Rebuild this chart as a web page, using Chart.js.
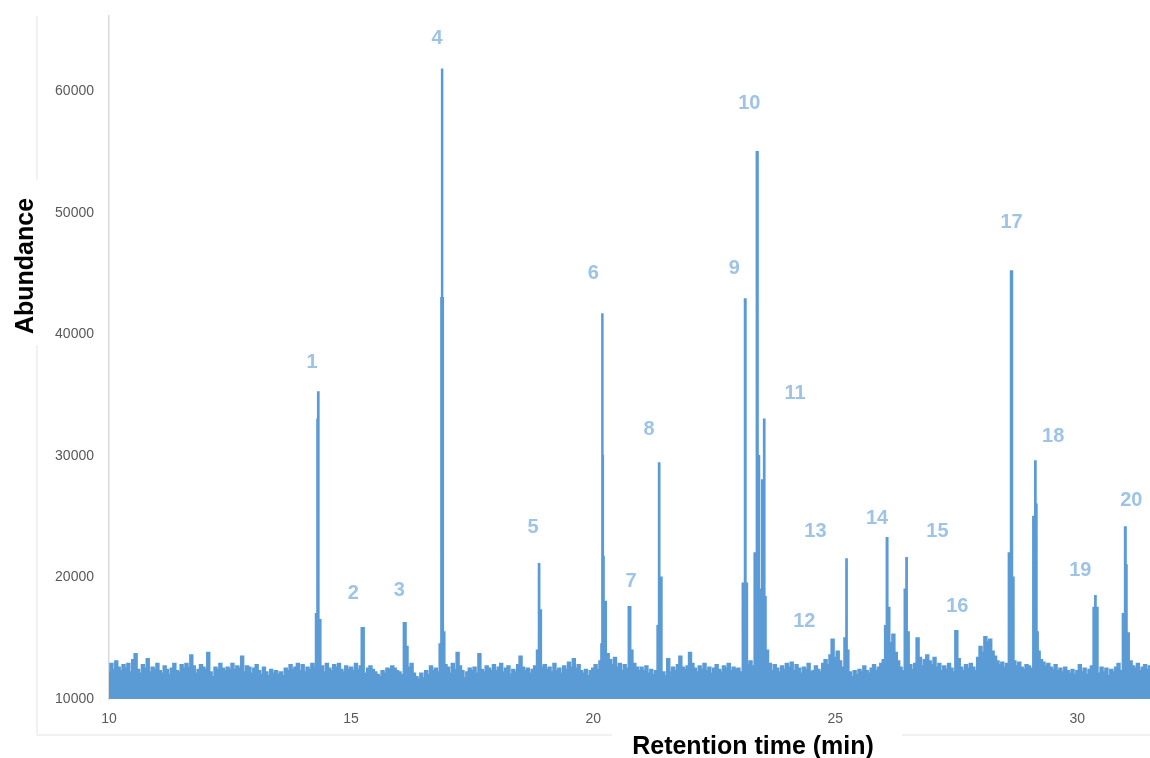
<!DOCTYPE html>
<html>
<head>
<meta charset="utf-8">
<script src="https://cdn.jsdelivr.net/npm/chart.js@4.4.1/dist/chart.umd.min.js"></script>
<style>
  html, body { margin: 0; padding: 0; background: #fff; }
  #wrap { position: relative; width: 1150px; height: 758px; }
</style>
</head>
<body>
<div id="wrap"><canvas id="chrom"></canvas></div>
<script>
// baseline noise, one value every 0.05 min from 10.00 to 31.50
const baselineStart = 10;
const baselineStep = 0.05;
const baselineValues = [
  12200, 12900, 12400, 13100, 12600, 12300, 12800, 12500, 12900, 12200, 13200, 13700, 12400, 12100, 12800, 12500, 13300, 12200, 12600, 12400,
  12900, 12300, 12100, 12700, 12400, 12000, 12500, 12900, 12300, 12200, 12800, 12500, 12900, 12600, 13600, 12700, 12100, 12400, 12800, 12600,
  12400, 13800, 12200, 11800, 12600, 12400, 12900, 12500, 12300, 12600, 12400, 12900, 12400, 12700, 12500, 13500, 12200, 12700, 12600, 12100,
  12500, 12800, 12300, 12000, 12600, 12200, 11900, 12400, 12100, 12300, 12000, 12200, 11900, 12500, 12300, 12800, 12400, 12600, 12900, 12300,
  12800, 12200, 12600, 12400, 12900, 12600, 12500, 12300, 12700, 12200, 12900, 12500, 12300, 12800, 12600, 12900, 12400, 12200, 12700, 12400,
  12600, 12300, 12900, 12400, 12700, 12300, 12100, 12500, 12700, 12400, 12200, 12000, 11800, 12300, 12100, 12500, 12400, 12700, 12500, 12300,
  12200, 12000, 12400, 13300, 12600, 12900, 12100, 11800, 11600, 12100, 11700, 12300, 12000, 12700, 12300, 12500, 12200, 13900, 14200, 12800,
  12600, 12100, 12900, 12400, 13800, 12700, 12300, 11700, 12200, 12500, 12300, 12600, 12100, 13700, 12400, 12200, 12700, 12500, 12300, 12800,
  12300, 12600, 12900, 12200, 12500, 12700, 12000, 12400, 12200, 12800, 13500, 12600, 12300, 12500, 12100, 12400, 12700, 12900, 13100, 12600,
  12800, 12400, 12600, 12200, 12900, 12300, 12500, 12100, 12700, 12400, 13000, 12600, 13300, 12500, 12800, 12300, 12100, 12400, 11900, 12300,
  12500, 12800, 12400, 13100, 14000, 13200, 13700, 13200, 12800, 13400, 12600, 12900, 12300, 12800, 12500, 13000, 13400, 12900, 12600, 12300,
  12600, 12300, 12700, 12100, 12400, 12000, 12300, 12500, 12700, 12200, 11900, 13300, 12200, 12600, 12300, 12800, 13500, 12600, 12400, 12700,
  13800, 12900, 12500, 12200, 12700, 12400, 12900, 12300, 12600, 12100, 12500, 12800, 12400, 12200, 12700, 12500, 12900, 12300, 12600, 12400,
  12500, 12200, 12900, 13200, 12800, 13100, 12700, 13000, 12900, 13400, 12800, 12600, 12400, 12900, 12300, 12800, 12500, 12200, 12700, 12400,
  12900, 12600, 13000, 12300, 12800, 12500, 12100, 12600, 12400, 12900, 12200, 12300, 12700, 12400, 12200, 12900, 13200, 12800, 13600, 14000,
  13400, 13900, 13100, 12600, 12900, 13000, 12200, 11800, 12300, 12000, 12400, 12200, 12700, 12300, 12100, 12500, 12800, 12300, 12600, 12900,
  13200, 13800, 15200, 14600, 15300, 13800, 13100, 12600, 12300, 13500, 14000, 12800, 12400, 12900, 15000, 13400, 12700, 13200, 13600, 13100,
  12800, 13400, 12600, 12900, 12300, 12700, 12400, 12900, 12500, 12200, 12800, 13300, 12600, 12300, 12800, 12500, 12900, 12600, 12300, 13400,
  14300, 13800, 15100, 14700, 14900, 13900, 13500, 13100, 12800, 13000, 12600, 12900, 13200, 13500, 13100, 12700, 13000, 12600, 12400, 12800,
  12700, 12500, 13400, 13600, 13900, 13200, 13000, 12700, 12900, 12600, 12400, 12800, 12300, 12500, 12200, 12600, 12300, 12100, 12400, 12000,
  12300, 12800, 12200, 12500, 12000, 12400, 12700, 13100, 12300, 12100, 12600, 12200, 12500, 11900, 12400, 12200, 12600, 12900, 12300, 13300,
  14000, 15400, 13100, 12700, 12500, 12900, 12300, 12600, 12800, 12400, 12700
];

// peak profiles (apex plus flanks), retention time in min / abundance
const peakPointTimes = [
  14.29, 14.31, 14.32, 14.34,
  15.23,
  16.12, 16.14,
  16.85, 16.87, 16.88, 16.89, 16.91,
  18.87, 18.88, 18.90,
  20.18, 20.19, 20.20, 20.21, 20.23,
  20.76, 20.78,
  21.35, 21.36, 21.38,
  23.12, 23.14, 23.16,
  23.36, 23.39, 23.41, 23.45,
  23.52, 23.53, 23.55, 23.58,
  24.94,
  25.22, 25.23, 25.25,
  26.05, 26.07, 26.09,
  26.46, 26.47, 26.49,
  27.50,
  28.61, 28.64, 28.67,
  29.12, 29.13, 29.15, 29.17,
  30.36, 30.37, 30.39,
  30.97, 30.99, 31.01, 31.03
];
const peakPointValues = [
  17000, 33000, 35250, 16500,
  15840,
  16250, 14300,
  14500, 43000, 61800, 43000, 15500,
  14000, 21100, 17300,
  14500, 41660, 30000, 21700, 18000,
  17570, 14000,
  16000, 29400, 20000,
  19500, 42900, 19500,
  22000, 55000, 30000, 19000,
  28000, 33000, 18400, 14000,
  14900,
  15000, 21500, 14000,
  16000, 23240, 17500,
  19000, 21600, 15500,
  15600,
  22000, 45200, 20000,
  25000, 29570, 26000, 15500,
  17500, 18470, 17500,
  17000, 24140, 21000, 15400
];

// numbered peaks
const peakNames = ['1','2','3','4','5','6','7','8','9','10','11','12','13','14','15','16','17','18','19','20'];
const peakTimes = [14.32, 15.23, 16.12, 16.88, 18.88, 20.19, 20.76, 21.36, 23.14, 23.39, 23.53, 24.94, 25.23, 26.07, 26.47, 27.50, 28.64, 29.13, 30.37, 30.99];
const peakHeights = [35250, 15840, 16250, 61800, 21100, 41660, 17570, 29400, 42900, 55000, 33000, 14900, 21500, 23240, 21600, 15600, 45200, 29570, 18470, 24140];

const xTicks = [10, 15, 20, 25, 30];
const yTicks = [10000, 20000, 30000, 40000, 50000, 60000];

// label placement relative to the apex (px)
const labelOffsets = [
  [-6, -30], [-9, -35], [-6, -33], [-5, -31], [-6, -37], [-9, -41], [1, -26], [-10, -34], [-11, -31], [-8, -49],
  [31, -26], [-28, -18], [-31, -28], [-10, -20], [31, -27], [1, -24], [0, -49], [18, -25], [-15, -26], [6, -27]
];

// merge baseline + peaks
const points = [];
baselineValues.forEach((v, i) => {
  const t = +(baselineStart + i * baselineStep).toFixed(2);
  if (!peakPointTimes.some(p => Math.abs(p - t) < 0.025)) points.push({ x: t, y: v });
});
peakPointTimes.forEach((t, i) => points.push({ x: t, y: peakPointValues[i] }));
points.sort((a, b) => a.x - b.x);

const blue = '#5b9bd5';
const labelBlue = '#9dc3e6';

const framePlugin = {
  id: 'frame',
  beforeDraw(chart) {
    const ctx = chart.ctx;
    ctx.save();
    ctx.strokeStyle = '#ededed';
    ctx.lineWidth = 1.5;
    ctx.beginPath();
    ctx.moveTo(37, 16);
    ctx.lineTo(37, 735);
    ctx.lineTo(1150, 735);
    ctx.stroke();
    ctx.restore();
  },
  afterDraw(chart) {
    const ctx = chart.ctx;
    const { x, y } = chart.scales;
    ctx.save();
    // peak numbers
    ctx.fillStyle = labelBlue;
    ctx.font = 'bold 20px "Liberation Sans", Arial, sans-serif';
    ctx.textAlign = 'center';
    ctx.textBaseline = 'middle';
    peakNames.forEach((n, i) => {
      const px = x.getPixelForValue(peakTimes[i]) + labelOffsets[i][0];
      const py = y.getPixelForValue(peakHeights[i]) + labelOffsets[i][1];
      ctx.fillText(n, px, py);
    });
    // axis titles
    ctx.font = 'bold 25px "Liberation Sans", Arial, sans-serif';
    ctx.fillStyle = '#fff';
    ctx.fillRect(10, 180, 30, 165);
    ctx.fillRect(612, 728, 290, 30);
    ctx.fillStyle = '#000';
    ctx.textBaseline = 'alphabetic';
    ctx.fillText('Retention time (min)', 753, 754);
    ctx.translate(33, 266);
    ctx.rotate(-Math.PI / 2);
    ctx.fillText('Abundance', 0, 0);
    ctx.restore();
  }
};

new Chart(document.getElementById('chrom'), {
  type: 'line',
  data: {
    datasets: [{
      data: points,
      borderColor: blue,
      backgroundColor: blue,
      borderWidth: 2,
      fill: 'start',
      pointRadius: 0,
      stepped: 'middle'
    }]
  },
  options: {
    responsive: true,
    maintainAspectRatio: false,
    animation: false,
    layout: { padding: { top: 16, left: 0, right: 0, bottom: 0 } },
    plugins: { legend: { display: false }, tooltip: { enabled: false } },
    scales: {
      x: {
        type: 'linear',
        min: 10,
        max: 31.5,
        afterBuildTicks: s => { s.ticks = xTicks.map(v => ({ value: v })); },
        afterFit: s => { s.height = 59; },
        grid: { display: false },
        border: { display: false },
        ticks: { color: '#595959', font: { size: 14, family: '"Liberation Sans", Arial' }, padding: 4, maxRotation: 0 }
      },
      y: {
        min: 10000,
        max: 66200,
        afterBuildTicks: s => { s.ticks = yTicks.map(v => ({ value: v })); },
        afterFit: s => { s.width = 109; },
        grid: { display: false },
        border: { display: true, color: '#d9d9d9', width: 1.5 },
        ticks: { color: '#595959', font: { size: 14, family: '"Liberation Sans", Arial' }, padding: 7, callback: v => String(v) }
      }
    }
  },
  plugins: [framePlugin]
});
</script>
</body>
</html>
